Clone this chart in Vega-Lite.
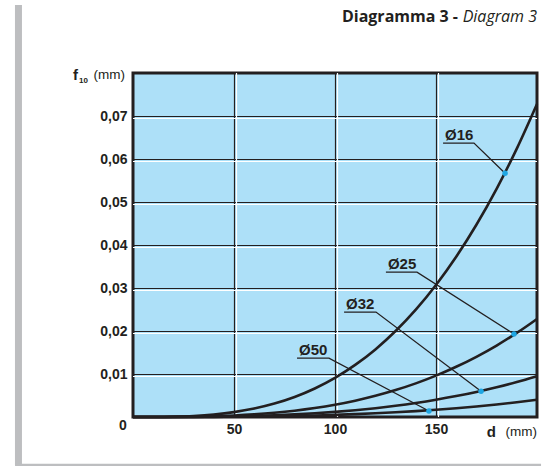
{
  "$schema": "https://vega.github.io/schema/vega-lite/v6.json",
  "autosize": {"type": "none"},
  "width": 404,
  "height": 344,
  "padding": {"left": 133, "top": 73, "right": 16, "bottom": 49},
  "background": "white",
  "config": {
    "view": {"fill": "#ade0f8", "stroke": "#231f20", "strokeWidth": 3},
    "font": "Liberation Sans"
  },
  "datasets": {
    "curves": [
      {"s": "Ø16", "d": 0, "f": 0}, {"s": "Ø16", "d": 10, "f": 0.0000091}, {"s": "Ø16", "d": 20, "f": 0.0000728}, {"s": "Ø16", "d": 30, "f": 0.000246}, {"s": "Ø16", "d": 40, "f": 0.000582}, {"s": "Ø16", "d": 50, "f": 0.001138}, {"s": "Ø16", "d": 60, "f": 0.001966}, {"s": "Ø16", "d": 70, "f": 0.003121}, {"s": "Ø16", "d": 80, "f": 0.004659}, {"s": "Ø16", "d": 90, "f": 0.006634}, {"s": "Ø16", "d": 100, "f": 0.0091}, {"s": "Ø16", "d": 110, "f": 0.01211}, {"s": "Ø16", "d": 120, "f": 0.01572}, {"s": "Ø16", "d": 130, "f": 0.01999}, {"s": "Ø16", "d": 140, "f": 0.02497}, {"s": "Ø16", "d": 150, "f": 0.03071}, {"s": "Ø16", "d": 160, "f": 0.03727}, {"s": "Ø16", "d": 170, "f": 0.04471}, {"s": "Ø16", "d": 180, "f": 0.05307}, {"s": "Ø16", "d": 190, "f": 0.06242}, {"s": "Ø16", "d": 200, "f": 0.0728},
      {"s": "Ø25", "d": 0, "f": 0}, {"s": "Ø25", "d": 10, "f": 0.0000029}, {"s": "Ø25", "d": 20, "f": 0.0000228}, {"s": "Ø25", "d": 30, "f": 0.000077}, {"s": "Ø25", "d": 40, "f": 0.000182}, {"s": "Ø25", "d": 50, "f": 0.000356}, {"s": "Ø25", "d": 60, "f": 0.000616}, {"s": "Ø25", "d": 70, "f": 0.000978}, {"s": "Ø25", "d": 80, "f": 0.001459}, {"s": "Ø25", "d": 90, "f": 0.002078}, {"s": "Ø25", "d": 100, "f": 0.00285}, {"s": "Ø25", "d": 110, "f": 0.003793}, {"s": "Ø25", "d": 120, "f": 0.004925}, {"s": "Ø25", "d": 130, "f": 0.006261}, {"s": "Ø25", "d": 140, "f": 0.00782}, {"s": "Ø25", "d": 150, "f": 0.009619}, {"s": "Ø25", "d": 160, "f": 0.011674}, {"s": "Ø25", "d": 170, "f": 0.014002}, {"s": "Ø25", "d": 180, "f": 0.016621}, {"s": "Ø25", "d": 190, "f": 0.019548}, {"s": "Ø25", "d": 200, "f": 0.0228},
      {"s": "Ø32", "d": 0, "f": 0}, {"s": "Ø32", "d": 10, "f": 0.0000012}, {"s": "Ø32", "d": 20, "f": 0.0000095}, {"s": "Ø32", "d": 30, "f": 0.000032}, {"s": "Ø32", "d": 40, "f": 0.000076}, {"s": "Ø32", "d": 50, "f": 0.000148}, {"s": "Ø32", "d": 60, "f": 0.000257}, {"s": "Ø32", "d": 70, "f": 0.000407}, {"s": "Ø32", "d": 80, "f": 0.000608}, {"s": "Ø32", "d": 90, "f": 0.000866}, {"s": "Ø32", "d": 100, "f": 0.001188}, {"s": "Ø32", "d": 110, "f": 0.001581}, {"s": "Ø32", "d": 120, "f": 0.002052}, {"s": "Ø32", "d": 130, "f": 0.002609}, {"s": "Ø32", "d": 140, "f": 0.003259}, {"s": "Ø32", "d": 150, "f": 0.004008}, {"s": "Ø32", "d": 160, "f": 0.004864}, {"s": "Ø32", "d": 170, "f": 0.005834}, {"s": "Ø32", "d": 180, "f": 0.006926}, {"s": "Ø32", "d": 190, "f": 0.008145}, {"s": "Ø32", "d": 200, "f": 0.0095},
      {"s": "Ø50", "d": 0, "f": 0}, {"s": "Ø50", "d": 10, "f": 0.0000005}, {"s": "Ø50", "d": 20, "f": 0.000004}, {"s": "Ø50", "d": 30, "f": 0.0000135}, {"s": "Ø50", "d": 40, "f": 0.000032}, {"s": "Ø50", "d": 50, "f": 0.0000625}, {"s": "Ø50", "d": 60, "f": 0.000108}, {"s": "Ø50", "d": 70, "f": 0.0001715}, {"s": "Ø50", "d": 80, "f": 0.000256}, {"s": "Ø50", "d": 90, "f": 0.0003645}, {"s": "Ø50", "d": 100, "f": 0.0005}, {"s": "Ø50", "d": 110, "f": 0.000666}, {"s": "Ø50", "d": 120, "f": 0.000864}, {"s": "Ø50", "d": 130, "f": 0.0010985}, {"s": "Ø50", "d": 140, "f": 0.001372}, {"s": "Ø50", "d": 150, "f": 0.0016875}, {"s": "Ø50", "d": 160, "f": 0.002048}, {"s": "Ø50", "d": 170, "f": 0.0024565}, {"s": "Ø50", "d": 180, "f": 0.002916}, {"s": "Ø50", "d": 190, "f": 0.0034295}, {"s": "Ø50", "d": 200, "f": 0.004}
    ],
    "leaders": [
      {"s": "Ø16", "seq": 1, "d": 153.5, "f": 0.0637}, {"s": "Ø16", "seq": 2, "d": 168.8, "f": 0.0637}, {"s": "Ø16", "seq": 3, "d": 184.2, "f": 0.0567},
      {"s": "Ø25", "seq": 1, "d": 125.2, "f": 0.0337}, {"s": "Ø25", "seq": 2, "d": 140.6, "f": 0.0337}, {"s": "Ø25", "seq": 3, "d": 188.6, "f": 0.0193},
      {"s": "Ø32", "seq": 1, "d": 104.5, "f": 0.0244}, {"s": "Ø32", "seq": 2, "d": 120.3, "f": 0.0244}, {"s": "Ø32", "seq": 3, "d": 172.3, "f": 0.006},
      {"s": "Ø50", "seq": 1, "d": 81.2, "f": 0.0137}, {"s": "Ø50", "seq": 2, "d": 97.0, "f": 0.0137}, {"s": "Ø50", "seq": 3, "d": 146.5, "f": 0.0014}
    ],
    "gridH": [{"f": 0.01}, {"f": 0.02}, {"f": 0.03}, {"f": 0.04}, {"f": 0.05}, {"f": 0.06}, {"f": 0.07}],
    "gridV": [{"d": 50}, {"d": 100}, {"d": 150}],
    "frameV": [{"d": -56.7, "f": 0.0958, "f2": -0.0112}],
    "frameH": [{"d": -58.4, "d2": 202, "f": -0.0112}],
    "corner": [{"d": 0, "f": 0, "t": "0"}],
    "xtitle": [{"d": 200, "f": 0}],
    "ytitle": [{"d": 0, "f": 0.08}],
    "title": [{"d": 200, "f": 0.08}]
  },
  "layer": [
    {
      "data": {"name": "frameV"},
      "mark": {"type": "rule", "stroke": "#bdbec0", "strokeWidth": 7},
      "encoding": {
        "x": {"field": "d", "type": "quantitative", "scale": {"domain": [0, 200], "nice": false, "zero": false},
          "axis": {"values": [50, 100, 150], "title": null, "grid": true, "gridColor": "#231f20", "gridWidth": 1.2, "ticks": false, "domain": false,
            "labelFont": "Liberation Sans", "labelFontWeight": "bold", "labelFontSize": 14, "labelColor": "#231f20", "labelPadding": 5, "labelBaseline": "top"}},
        "y": {"field": "f", "type": "quantitative", "scale": {"domain": [0, 0.08], "nice": false, "zero": false},
          "axis": {"values": [0.01, 0.02, 0.03, 0.04, 0.05, 0.06, 0.07], "title": null, "grid": true, "gridColor": "#231f20", "gridWidth": 1.2, "ticks": false, "domain": false,
            "labelExpr": "replace(format(datum.value, '.2f'), '.', ',')",
            "labelFont": "Liberation Sans", "labelFontWeight": "bold", "labelFontSize": 14, "labelColor": "#231f20", "labelPadding": 6}},
        "y2": {"field": "f2"}
      }
    },
    {
      "data": {"name": "frameH"},
      "mark": {"type": "rule", "stroke": "#bdbec0", "strokeWidth": 3},
      "encoding": {
        "x": {"field": "d", "type": "quantitative"},
        "x2": {"field": "d2"},
        "y": {"field": "f", "type": "quantitative"}
      }
    },
    {
      "data": {"name": "gridH"},
      "mark": {"type": "rule", "stroke": "white", "strokeWidth": 1.2, "yOffset": 2.5},
      "encoding": {"y": {"field": "f", "type": "quantitative"}}
    },
    {
      "data": {"name": "gridV"},
      "mark": {"type": "rule", "stroke": "white", "strokeWidth": 1.2, "xOffset": 2.5},
      "encoding": {"x": {"field": "d", "type": "quantitative"}}
    },
    {
      "data": {"name": "curves"},
      "mark": {"type": "line", "stroke": "#231f20", "strokeWidth": 2.6, "interpolate": "monotone"},
      "encoding": {
        "x": {"field": "d", "type": "quantitative"},
        "y": {"field": "f", "type": "quantitative"},
        "detail": {"field": "s"}
      }
    },
    {
      "data": {"name": "leaders"},
      "mark": {"type": "line", "stroke": "#231f20", "strokeWidth": 1.3},
      "encoding": {
        "x": {"field": "d", "type": "quantitative"},
        "y": {"field": "f", "type": "quantitative"},
        "detail": {"field": "s"},
        "order": {"field": "seq", "type": "quantitative"}
      }
    },
    {
      "data": {"name": "leaders"},
      "transform": [{"filter": "datum.seq == 3"}],
      "mark": {"type": "circle", "fill": "#1ea6e3", "opacity": 1, "size": 30},
      "encoding": {
        "x": {"field": "d", "type": "quantitative"},
        "y": {"field": "f", "type": "quantitative"}
      }
    },
    {
      "data": {"name": "leaders"},
      "transform": [{"filter": "datum.seq == 1"}],
      "mark": {"type": "text", "align": "left", "baseline": "alphabetic", "dx": 2, "dy": -3, "font": "Liberation Sans", "fontWeight": "bold", "fontSize": 15, "fill": "#231f20"},
      "encoding": {
        "x": {"field": "d", "type": "quantitative"},
        "y": {"field": "f", "type": "quantitative"},
        "text": {"field": "s"}
      }
    },
    {
      "data": {"name": "corner"},
      "mark": {"type": "text", "align": "center", "baseline": "middle", "dx": -10, "dy": 9, "font": "Liberation Sans", "fontWeight": "bold", "fontSize": 14, "fill": "#231f20"},
      "encoding": {
        "x": {"field": "d", "type": "quantitative"},
        "y": {"field": "f", "type": "quantitative"},
        "text": {"field": "t"}
      }
    },
    {
      "data": {"name": "xtitle"},
      "mark": {"type": "text", "text": "(mm)", "align": "right", "baseline": "middle", "dy": 15, "font": "Liberation Sans", "fontSize": 13.5, "fill": "#231f20"},
      "encoding": {
        "x": {"field": "d", "type": "quantitative"},
        "y": {"field": "f", "type": "quantitative"}
      }
    },
    {
      "data": {"name": "xtitle"},
      "mark": {"type": "text", "text": "d", "align": "right", "baseline": "middle", "dx": -41, "dy": 15, "font": "Liberation Sans", "fontWeight": "bold", "fontSize": 15, "fill": "#231f20"},
      "encoding": {
        "x": {"field": "d", "type": "quantitative"},
        "y": {"field": "f", "type": "quantitative"}
      }
    },
    {
      "data": {"name": "ytitle"},
      "mark": {"type": "text", "text": "(mm)", "align": "right", "baseline": "middle", "dx": -8, "dy": 2, "font": "Liberation Sans", "fontSize": 13.5, "fill": "#231f20"},
      "encoding": {
        "x": {"field": "d", "type": "quantitative"},
        "y": {"field": "f", "type": "quantitative"}
      }
    },
    {
      "data": {"name": "ytitle"},
      "mark": {"type": "text", "text": "f", "align": "left", "baseline": "middle", "dx": -60, "dy": 2, "font": "Liberation Sans", "fontWeight": "bold", "fontSize": 15, "fill": "#231f20"},
      "encoding": {
        "x": {"field": "d", "type": "quantitative"},
        "y": {"field": "f", "type": "quantitative"}
      }
    },
    {
      "data": {"name": "ytitle"},
      "mark": {"type": "text", "text": "10", "align": "left", "baseline": "middle", "dx": -54, "dy": 8, "font": "Liberation Sans", "fontWeight": "bold", "fontSize": 8, "fill": "#231f20"},
      "encoding": {
        "x": {"field": "d", "type": "quantitative"},
        "y": {"field": "f", "type": "quantitative"}
      }
    },
    {
      "data": {"name": "title"},
      "mark": {"type": "text", "text": "Diagram 3", "align": "right", "baseline": "middle", "dy": -56, "font": "Open Sans", "fontStyle": "italic", "fontSize": 16, "fill": "#231f20"},
      "encoding": {
        "x": {"field": "d", "type": "quantitative"},
        "y": {"field": "f", "type": "quantitative"}
      }
    },
    {
      "data": {"name": "title"},
      "mark": {"type": "text", "text": "Diagramma 3 -", "align": "right", "baseline": "middle", "dx": -79, "dy": -56, "font": "Open Sans", "fontWeight": "bold", "fontSize": 16, "fill": "#231f20"},
      "encoding": {
        "x": {"field": "d", "type": "quantitative"},
        "y": {"field": "f", "type": "quantitative"}
      }
    }
  ]
}
